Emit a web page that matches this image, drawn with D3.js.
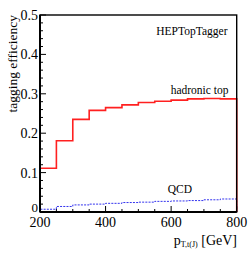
<!DOCTYPE html>
<html><head><meta charset="utf-8">
<script src="https://cdn.jsdelivr.net/npm/d3@7"></script>
<style>body{margin:0;background:#fff}svg{display:block}</style>
</head><body>
<script>
const binEdges = [200,250,300,350,400,450,500,550,600,650,700,750,800];
const hadronicTop = [0.111,0.181,0.235,0.258,0.265,0.272,0.278,0.281,0.284,0.287,0.288,0.287];
const qcd = [0.007,0.014,0.018,0.020,0.022,0.024,0.025,0.027,0.028,0.029,0.031,0.033];
const xTicks = [200,400,600,800];
const yTicks = [0,0.1,0.2,0.3,0.4,0.5];

const W=252,H=253;
const FONT="Liberation Serif, DejaVu Serif, serif";
const m={l:40,r:15.3,t:15,b:41};
const svg=d3.select("body").append("svg").attr("width",W).attr("height",H).attr("font-family",FONT);
const x=d3.scaleLinear().domain([200,800]).range([m.l,W-m.r]);
const y=d3.scaleLinear().domain([0,0.5]).range([H-m.b,m.t]);

function stepPath(vals){
  const p=d3.path();
  p.moveTo(x(binEdges[0]),y(0));
  vals.forEach((v,i)=>{p.lineTo(x(binEdges[i]),y(v));p.lineTo(x(binEdges[i+1]),y(v));});
  p.lineTo(x(binEdges[binEdges.length-1]),y(0));
  return p.toString();
}
svg.append("path").attr("d",stepPath(qcd)).attr("fill","none").attr("stroke","#3333ee").attr("stroke-width",1).attr("stroke-dasharray","2,1.2");
svg.append("path").attr("d",stepPath(hadronicTop)).attr("fill","none").attr("stroke","#ff2020").attr("stroke-width",1.6);

const g=svg.append("g");
d3.range(0,0.5001,0.02).forEach(v=>{
  const major=Math.abs(v*10-Math.round(v*10))<1e-6;
  g.append("line").attr("x1",x(200)).attr("x2",x(200)+(major?6:3)).attr("y1",y(v)).attr("y2",y(v)).attr("stroke","#000").attr("stroke-width",1);
});
d3.range(200,800.1,50).forEach(v=>{
  const major=v%200===0;
  g.append("line").attr("x1",x(v)).attr("x2",x(v)).attr("y1",y(0)).attr("y2",y(0)-(major?6:3)).attr("stroke","#000").attr("stroke-width",1);
});
svg.append("rect").attr("x",x(200)).attr("y",y(0.5)).attr("width",x(800)-x(200)).attr("height",y(0)-y(0.5)).attr("fill","none").attr("stroke","#000").attr("stroke-width",1.4);
svg.append("line").attr("x1",x(200)).attr("x2",x(200)).attr("y1",y(0.5)).attr("y2",y(0)).attr("stroke","#000").attr("stroke-width",2);
svg.append("line").attr("x1",x(200)).attr("x2",x(800)).attr("y1",y(0)).attr("y2",y(0)).attr("stroke","#000").attr("stroke-width",1.8);

yTicks.forEach(v=>{
  svg.append("text").attr("x",38).attr("y",v===0?y(v)-0.5:y(v)+5).attr("text-anchor","end").attr("font-size",v===0?13:14).text(v===0?"0":d3.format(".1f")(v));
});
xTicks.forEach(v=>{
  svg.append("text").attr("x",x(v)).attr("y",226.5).attr("text-anchor","middle").attr("font-size",14).text(v);
});
svg.append("text").attr("transform","translate(17,15) rotate(-90)").attr("text-anchor","end").attr("font-size",13.5).text("tagging efficiency");
const xt=svg.append("text").attr("x",237).attr("y",245).attr("text-anchor","end").attr("font-size",14);
xt.append("tspan").text("p");
xt.append("tspan").attr("font-size",8).attr("dy",2).text("T,t(J)");
xt.append("tspan").attr("dy",-2).text(" [GeV]");
svg.append("text").attr("x",227.5).attr("y",35).attr("text-anchor","end").attr("font-size",11.5).text("HEPTopTagger");
svg.append("text").attr("x",228.5).attr("y",93.5).attr("text-anchor","end").attr("font-size",11.5).text("hadronic top");
svg.append("text").attr("x",192).attr("y",193).attr("text-anchor","end").attr("font-size",11.5).text("QCD");
</script>
</body></html>
